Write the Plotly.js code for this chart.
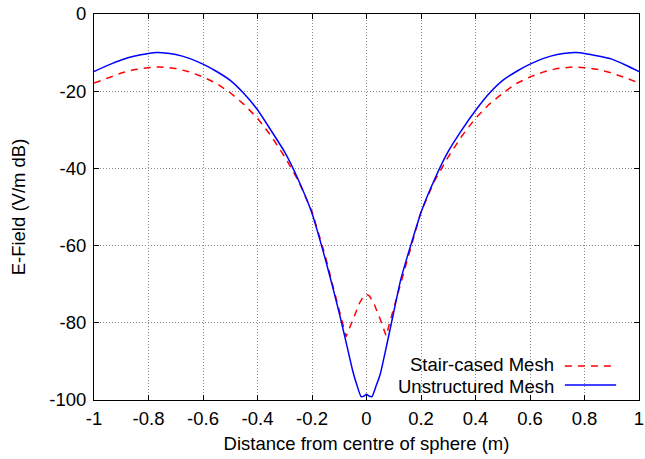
<!DOCTYPE html>
<html>
<head>
<meta charset="utf-8">
<script src="https://cdn.plot.ly/plotly-3.0.1.min.js"></script>
<style>body{margin:0;padding:0;background:#fff}#chart{width:645px;height:459px}</style>
</head>
<body>
<div id="chart"></div>
<script>
// Unstructured mesh (blue solid)
const unstructuredX = [-1,-0.95,-0.9,-0.85,-0.8,-0.77,-0.75,-0.7,-0.65,-0.6,-0.55,-0.5,-0.45,-0.4,-0.35,-0.3,-0.25,-0.2,-0.175,-0.15,-0.125,-0.1,-0.075,-0.05,-0.035,-0.02,-0.01,0,0.01,0.02,0.035,0.05,0.075,0.1,0.125,0.15,0.175,0.2,0.25,0.3,0.35,0.4,0.45,0.5,0.55,0.6,0.65,0.7,0.75,0.77,0.8,0.85,0.9,0.95,1];
const unstructuredY = [-14.9,-13.3,-11.9,-10.9,-10.25,-10.0,-10.05,-10.5,-11.5,-13.0,-14.9,-17.2,-20.6,-24.8,-30.2,-35.8,-43.0,-51.6,-57.5,-63.8,-70.5,-77.5,-85.0,-92.6,-96.2,-99.1,-99.0,-98.5,-99.0,-99.1,-96.4,-93.4,-85.5,-77.2,-69.0,-62.8,-57.0,-51.4,-42.8,-35.6,-30.0,-25.0,-20.6,-17.2,-14.9,-13.0,-11.5,-10.5,-10.05,-10.0,-10.25,-10.9,-11.7,-13.2,-14.9];

// Stair-cased mesh (red dashed)
const stairX = [-1,-0.95,-0.9,-0.85,-0.8,-0.76,-0.7,-0.65,-0.6,-0.55,-0.5,-0.45,-0.4,-0.35,-0.3,-0.25,-0.2,-0.165,-0.15,-0.125,-0.1,-0.075,-0.05,-0.025,-0.01,0,0.01,0.025,0.05,0.072,0.1,0.125,0.15,0.178,0.2,0.25,0.3,0.35,0.4,0.45,0.5,0.55,0.6,0.65,0.7,0.76,0.8,0.85,0.9,0.95,1];
const stairY = [-17.9,-16.5,-15.3,-14.4,-13.9,-13.7,-14.1,-15.0,-16.3,-18.0,-20.4,-23.4,-27.0,-31.6,-37.0,-43.2,-51.2,-59.4,-63.0,-70.0,-76.8,-83.6,-79.2,-74.8,-73.0,-72.6,-73.0,-74.6,-79.0,-83.4,-76.2,-69.9,-63.7,-56.8,-51.2,-43.2,-37.0,-31.6,-27.0,-23.4,-20.5,-18.0,-16.3,-15.0,-14.1,-13.7,-13.9,-14.4,-15.3,-16.5,-17.9];

const xTicks = [-1,-0.8,-0.6,-0.4,-0.2,0,0.2,0.4,0.6,0.8,1];
const xTickText = ["-1","-0.8","-0.6","-0.4","-0.2","0","0.2","0.4","0.6","0.8","1"];
const yTicks = [-100,-80,-60,-40,-20,0];
const yTickText = ["-100","-80","-60","-40","-20","0"];
const legendNames = ["Stair-cased Mesh","Unstructured Mesh"];

const FONT = "Liberation Sans, Arial, sans-serif";
const FS = 18.5;

const traces = [
  {x: stairX, y: stairY, type: "scatter", mode: "lines", name: legendNames[0],
   line: {color: "#ff0000", width: 1.5, dash: "7px,6px"}, showlegend: false},
  {x: unstructuredX, y: unstructuredY, type: "scatter", mode: "lines", name: legendNames[1],
   line: {color: "#0000ff", width: 1.5, shape: "spline", smoothing: 0.5}, showlegend: false}
];

const gridStyle = {showgrid: true, gridcolor: "#8a8a8a", griddash: "1px,2px", gridwidth: 1};

const layout = {
  width: 645, height: 459,
  margin: {l: 94, r: 6, t: 14, b: 59},
  paper_bgcolor: "#fff", plot_bgcolor: "#fff",
  font: {family: FONT, size: FS, color: "#000"},
  showlegend: false,
  xaxis: Object.assign({
    range: [-1, 1], tickvals: xTicks, ticktext: xTickText,
    ticks: "inside", ticklen: 5, tickcolor: "#000",
    showline: true, linecolor: "#000", linewidth: 1, mirror: "ticks",
    zeroline: false, ticklabelstandoff: 2,
    title: {text: "Distance from centre of sphere (m)", font: {size: FS}, standoff: 8}
  }, gridStyle),
  yaxis: Object.assign({
    range: [-100, 0], tickvals: yTicks, ticktext: yTickText,
    ticks: "inside", ticklen: 5, tickcolor: "#000",
    showline: true, linecolor: "#000", linewidth: 1, mirror: "ticks",
    zeroline: false, ticklabelstandoff: 3,
    title: {text: "E-Field (V/m dB)", font: {size: FS}, standoff: 18}
  }, gridStyle),
  shapes: [
    {type: "rect", xref: "paper", yref: "paper", x0: 0.479, x1: 0.998, y0: 0.003, y1: 0.111,
     fillcolor: "#fff", line: {width: 0}, layer: "between"},
    {type: "line", xref: "paper", yref: "paper", x0: 0.864, x1: 0.958, y0: 0.088, y1: 0.088,
     line: {color: "#ff0000", width: 1.5, dash: "7px,6px"}},
    {type: "line", xref: "paper", yref: "paper", x0: 0.864, x1: 0.958, y0: 0.039, y1: 0.039,
     line: {color: "#0000ff", width: 1.5}}
  ],
  annotations: [
    {xref: "paper", yref: "paper", x: 0.846, y: 0.093, xanchor: "right", yanchor: "middle",
     text: legendNames[0], showarrow: false, font: {size: FS}, borderpad: 0, height: 20},
    {xref: "paper", yref: "paper", x: 0.846, y: 0.036, xanchor: "right", yanchor: "middle",
     text: legendNames[1], showarrow: false, font: {size: FS}, borderpad: 0, height: 20}
  ]
};

Plotly.newPlot("chart", traces, layout, {displayModeBar: false, staticPlot: true});
</script>
</body>
</html>
